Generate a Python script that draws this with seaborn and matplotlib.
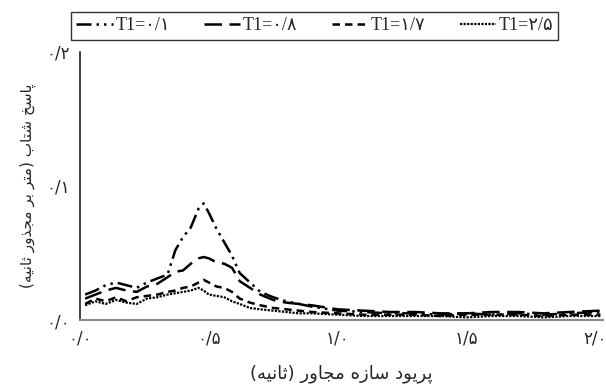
import matplotlib
matplotlib.use("Agg")
import matplotlib.pyplot as plt
import seaborn as sns
import pandas as pd

# period of adjacent structure (s)
period = [0.02, 0.06, 0.10, 0.14, 0.18, 0.22, 0.26, 0.30, 0.34, 0.37, 0.40, 0.43,
          0.46, 0.48, 0.50, 0.53, 0.56, 0.59, 0.62, 0.66, 0.70, 0.75, 0.80, 0.85,
          0.90, 1.00, 1.10, 1.20, 1.30, 1.40, 1.50, 1.60, 1.70, 1.80, 1.90, 2.02]

t1_01 = [0.019, 0.022, 0.026, 0.028, 0.026, 0.024, 0.028, 0.031, 0.034, 0.052, 0.062, 0.069,
         0.083, 0.087, 0.080, 0.068, 0.058, 0.048, 0.035, 0.028, 0.021, 0.017, 0.014, 0.012,
         0.010, 0.007, 0.006, 0.005, 0.005, 0.004, 0.005, 0.004, 0.005, 0.004, 0.005, 0.006]
t1_08 = [0.016, 0.019, 0.022, 0.024, 0.022, 0.021, 0.025, 0.027, 0.032, 0.036, 0.037, 0.042,
         0.046, 0.047, 0.046, 0.043, 0.042, 0.039, 0.029, 0.024, 0.019, 0.015, 0.013, 0.012,
         0.011, 0.008, 0.007, 0.006, 0.006, 0.005, 0.005, 0.006, 0.006, 0.005, 0.006, 0.007]
t1_17 = [0.012, 0.016, 0.014, 0.017, 0.014, 0.017, 0.018, 0.019, 0.021, 0.022, 0.024, 0.025,
         0.028, 0.030, 0.028, 0.025, 0.024, 0.021, 0.016, 0.013, 0.011, 0.009, 0.008, 0.007,
         0.006, 0.005, 0.004, 0.004, 0.004, 0.003, 0.004, 0.004, 0.004, 0.003, 0.004, 0.004]
t1_25 = [0.011, 0.014, 0.012, 0.015, 0.013, 0.012, 0.016, 0.017, 0.019, 0.020, 0.021, 0.022,
         0.024, 0.022, 0.019, 0.018, 0.017, 0.014, 0.012, 0.009, 0.008, 0.007, 0.006, 0.005,
         0.005, 0.004, 0.003, 0.003, 0.003, 0.003, 0.002, 0.003, 0.003, 0.002, 0.003, 0.003]

labels = ["T1=۰/۱", "T1=۰/۸", "T1=۱/۷", "T1=۲/۵"]
xticks = [0.0, 0.5, 1.0, 1.5, 2.0]
xticklabels = ["۰/۰", "۰/۵", "۱/۰", "۱/۵", "۲/۰"]
yticks = [0.0, 0.1, 0.2]
yticklabels = ["۰/۰", "۰/۱", "۰/۲"]
xlabel = "پریود سازه مجاور (ثانیه)"
ylabel = "پاسخ شتاب (متر بر مجذور ثانیه)"

# arabic presentation forms: (isolated, final[, initial, medial])
FORMS = {
    'ا': ('\uFE8D', '\uFE8E'),
    'د': ('\uFEA9', '\uFEAA'),
    'ذ': ('\uFEAB', '\uFEAC'),
    'ر': ('\uFEAD', '\uFEAE'),
    'ز': ('\uFEAF', '\uFEB0'),
    'و': ('\uFEED', '\uFEEE'),
    'ب': ('\uFE8F', '\uFE90', '\uFE91', '\uFE92'),
    'پ': ('\uFB56', '\uFB57', '\uFB58', '\uFB59'),
    'ت': ('\uFE95', '\uFE96', '\uFE97', '\uFE98'),
    'ث': ('\uFE99', '\uFE9A', '\uFE9B', '\uFE9C'),
    'ج': ('\uFE9D', '\uFE9E', '\uFE9F', '\uFEA0'),
    'خ': ('\uFEA5', '\uFEA6', '\uFEA7', '\uFEA8'),
    'س': ('\uFEB1', '\uFEB2', '\uFEB3', '\uFEB4'),
    'ش': ('\uFEB5', '\uFEB6', '\uFEB7', '\uFEB8'),
    'م': ('\uFEE1', '\uFEE2', '\uFEE3', '\uFEE4'),
    'ن': ('\uFEE5', '\uFEE6', '\uFEE7', '\uFEE8'),
    'ه': ('\uFEE9', '\uFEEA', '\uFEEB', '\uFEEC'),
    'ی': ('\uFBFC', '\uFBFD', '\uFBFE', '\uFBFF'),
}


def shape(s):
    out = []
    for i, c in enumerate(s):
        f = FORMS.get(c)
        if f is None:
            out.append(c)
            continue
        prev = s[i - 1] if i > 0 else ''
        nxt = s[i + 1] if i + 1 < len(s) else ''
        jp = prev in FORMS and len(FORMS[prev]) == 4
        jn = len(f) == 4 and nxt in FORMS
        if jp and jn:
            out.append(f[3])
        elif jp:
            out.append(f[1])
        elif jn:
            out.append(f[2])
        else:
            out.append(f[0])
    vis = ''.join(out)[::-1]
    return vis.translate(str.maketrans('()', ')('))


def main():
    sns.set_theme(style="white")
    plt.rcParams['font.family'] = ['Liberation Serif', 'DejaVu Sans']

    fig = plt.figure(figsize=(6.06, 3.87), dpi=100)
    ax = fig.add_axes([0.132, 0.173, 0.863, 0.693])

    series = [t1_01, t1_08, t1_17, t1_25]
    styles = [(0, (6, 2, 1, 2, 1, 2)), (0, (7, 3)), (0, (3, 2)), (0, (1, 0.6))]
    widths = [1.8, 1.8, 1.8, 1.6]
    for vals, lab, ls, lw in zip(series, labels, styles, widths):
        sns.lineplot(x=period, y=vals, ax=ax, color="black", linestyle=ls,
                     linewidth=lw, label=lab, legend=False)

    ax.set_xlim(0, 2.03)
    ax.set_ylim(0, 0.2)
    ax.set_xticks(xticks)
    ax.set_xticklabels(xticklabels, fontsize=12, family=['DejaVu Sans'])
    ax.set_yticks(yticks)
    ax.set_yticklabels(yticklabels, fontsize=12, family=['DejaVu Sans'])
    ax.tick_params(length=0, pad=7)
    ax.set_xlabel(shape(xlabel), fontsize=13, family=['DejaVu Sans'], labelpad=12)
    ax.set_ylabel(shape(ylabel), fontsize=11, family=['DejaVu Sans'], labelpad=8)

    for side in ['top', 'right']:
        ax.spines[side].set_visible(False)
    ax.spines['left'].set_color('#222222')
    ax.spines['bottom'].set_color('#888888')
    ax.spines['left'].set_linewidth(1.2)
    ax.spines['bottom'].set_linewidth(1.5)

    handles = ax.get_lines()[:4]
    leg = fig.legend(handles, labels, loc='upper left',
                     bbox_to_anchor=(62 / 606, 1 - 3 / 387), ncol=4,
                     frameon=True, fancybox=False, edgecolor='black',
                     handlelength=2.0, handletextpad=0.15,
                     columnspacing=1.9, borderpad=0.3,
                     prop={'family': ['Liberation Serif', 'DejaVu Sans'], 'size': 13})
    leg.get_frame().set_linewidth(1.0)

    plt.savefig('out.png', dpi=100)


if __name__ == '__main__':
    main()
